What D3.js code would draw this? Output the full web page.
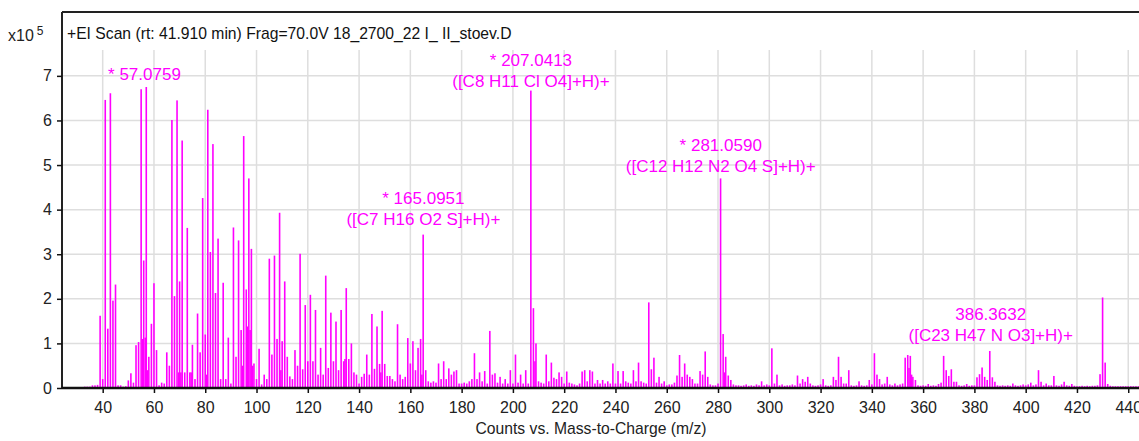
<!DOCTYPE html>
<html>
<head>
<meta charset="utf-8">
<script src="https://cdn.jsdelivr.net/npm/d3@7"></script>
<style>
html,body{margin:0;padding:0;background:#fff;}
svg{display:block;}
text{font-family:"Liberation Sans",Arial,sans-serif;}
</style>
</head>
<body>
<svg id="chart" width="1139" height="441"></svg>
<script>
// ---- data (counts in units of 10^5) ----
const titleText = "+EI Scan (rt: 41.910 min) Frag=70.0V 18_2700_22 I_ II_stoev.D";
const xLabel = "Counts vs. Mass-to-Charge (m/z)";
const xTicks = [40,60,80,100,120,140,160,180,200,220,240,260,280,300,320,340,360,380,400,420,440];
const yTicks = [0,1,2,3,4,5,6,7];

const mz = [
 33,34,35,36,37,38,39,40,41,42,43,44,45,46,47,48,49,50,51,52,
 53,54,55,56,57,58,59,60,61,62,63,64,65,66,67,68,69,70,71,72,
 73,74,75,76,77,78,79,80,81,82,83,84,85,86,87,88,89,90,91,92,
 93,94,95,96,97,98,99,100,101,102,103,104,105,106,107,108,109,110,111,112,
 113,114,115,116,117,118,119,120,121,122,123,124,125,126,127,128,129,130,131,132,
 133,134,135,136,137,138,139,140,141,142,143,144,145,146,147,148,149,150,151,152,
 153,154,155,156,157,158,159,160,161,162,163,164,165,166,167,168,169,170,171,172,
 173,174,175,176,177,178,179,180,181,182,183,184,185,186,187,188,189,190,191,192,
 193,194,195,196,197,198,199,200,201,202,203,204,205,206,207,208,209,210,211,212,
 213,214,215,216,217,218,219,220,221,222,223,224,225,226,227,228,229,230,231,232,
 233,234,235,236,237,238,239,240,241,242,243,244,245,246,247,248,249,250,251,252,
 253,254,255,256,257,258,259,260,261,262,263,264,265,266,267,268,269,270,271,272,
 273,274,275,276,277,278,279,280,281,282,283,284,285,286,287,288,289,290,291,292,
 293,294,295,296,297,298,299,300,301,302,303,304,305,306,307,308,309,310,311,312,
 313,314,315,316,317,318,319,320,321,322,323,324,325,326,327,328,329,330,331,332,
 333,334,335,336,337,338,339,340,341,342,343,344,345,346,347,348,349,350,351,352,
 353,354,355,356,357,358,359,360,361,362,363,364,365,366,367,368,369,370,371,372,
 373,374,375,376,377,378,379,380,381,382,383,384,385,386,387,388,389,390,391,392,
 393,394,395,396,397,398,399,400,401,402,403,404,405,406,407,408,409,410,411,412,
 413,414,415,416,417,418,419,420,421,422,423,424,425,426,427,428,429,430,431,432,
 433,434,435,436,437,438,439,440,441,442,443,444
];
const counts = [
 0.03,0.03,0.03,0.06,0.06,0.07,1.62,0.20,6.46,1.33,6.61,1.96,2.32,0.06,0.06,0.03,0.04,0.17,0.33,0.12,
 0.96,1.03,6.70,2.86,6.75,0.70,1.44,2.35,0.85,0.06,0.12,0.10,0.80,0.50,6.01,2.06,6.45,2.39,5.55,0.35,
 3.59,0.35,0.97,0.20,1.67,0.80,4.26,1.20,6.24,3.05,5.47,2.13,3.35,0.20,2.36,0.20,1.13,0.10,3.60,0.70,
 3.31,1.30,5.65,2.21,4.70,3.12,0.55,0.20,0.88,0.08,0.30,0.20,2.90,0.75,2.97,1.10,3.93,1.05,2.39,0.70,
 0.26,0.20,0.85,0.50,3.01,0.42,1.86,0.60,2.09,0.60,1.75,0.30,0.90,0.30,2.52,0.45,1.69,0.60,1.49,0.40,
 1.75,0.60,2.24,0.65,1.00,0.35,0.30,0.10,0.25,0.32,0.75,0.30,1.66,0.43,1.38,0.54,1.73,0.54,0.27,0.27,
 0.20,0.15,1.43,0.30,0.20,0.25,1.12,0.55,1.05,0.40,0.90,1.10,3.44,0.40,0.15,0.12,0.15,0.12,0.55,0.20,
 0.60,0.20,0.44,0.30,0.37,0.40,0.10,0.10,0.12,0.10,0.15,0.20,0.78,0.20,0.35,0.15,0.38,0.10,1.28,0.30,
 0.33,0.12,0.25,0.10,0.20,0.10,0.40,0.10,0.75,0.12,0.30,0.10,0.40,0.10,6.67,1.79,1.00,0.15,0.12,0.10,
 0.75,0.15,0.57,0.23,0.20,0.35,0.25,0.10,0.37,0.12,0.10,0.08,0.06,0.10,0.37,0.40,0.15,0.40,0.37,0.10,
 0.18,0.10,0.18,0.10,0.15,0.10,0.55,0.10,0.38,0.10,0.38,0.15,0.12,0.10,0.40,0.15,0.57,0.15,0.12,0.10,
 1.92,0.42,0.68,0.12,0.25,0.10,0.15,0.06,0.08,0.08,0.12,0.28,0.74,0.25,0.55,0.30,0.25,0.20,0.10,0.10,
 0.38,0.30,0.82,0.25,0.08,0.06,0.06,0.10,4.70,1.21,0.70,0.28,0.18,0.08,0.06,0.06,0.05,0.06,0.08,0.05,
 0.06,0.05,0.08,0.06,0.15,0.06,0.08,0.06,0.89,0.10,0.30,0.06,0.08,0.05,0.06,0.06,0.08,0.06,0.28,0.10,
 0.20,0.14,0.25,0.10,0.06,0.05,0.06,0.08,0.20,0.06,0.05,0.06,0.25,0.18,0.70,0.25,0.10,0.10,0.40,0.06,
 0.05,0.06,0.15,0.06,0.05,0.06,0.18,0.08,0.78,0.30,0.20,0.08,0.10,0.25,0.08,0.06,0.10,0.06,0.08,0.10,
 0.68,0.74,0.72,0.25,0.18,0.06,0.05,0.06,0.05,0.09,0.05,0.06,0.05,0.09,0.12,0.72,0.40,0.27,0.42,0.14,
 0.14,0.06,0.05,0.06,0.09,0.05,0.06,0.06,0.24,0.31,0.46,0.25,0.18,0.83,0.24,0.14,0.06,0.05,0.06,0.05,
 0.06,0.05,0.10,0.06,0.05,0.06,0.08,0.06,0.08,0.12,0.06,0.08,0.40,0.14,0.06,0.10,0.06,0.06,0.27,0.06,
 0.05,0.08,0.14,0.06,0.05,0.09,0.05,0.04,0.04,0.05,0.04,0.05,0.04,0.05,0.05,0.06,0.31,2.03,0.57,0.09,
 0.05,0.04,0.04,0.04,0.04,0.04,0.04,0.04,0.04,0.04,0.04,0.04
];
// additional non-integer peaks in dense regions
const extraMz = [55.6,56.6,57.5,69.6,70.5,74.5,80.5,94.5,96.5,97.5,98.5,109.5,134.5,148.5,164.5,208.6,282.5,354.5,355.5];
const extraCounts = [1.10,1.13,0.40,0.35,0.35,0.35,0.30,0.50,1.38,1.30,0.50,0.40,0.65,0.35,0.30,0.60,0.35,0.45,0.30];

// annotated peaks
const annoMz = [57.0759, 207.0413, 165.0951, 281.0590, 386.3632];
const annoLine1 = ["* 57.0759", "* 207.0413", "* 165.0951", "* 281.0590", "386.3632"];
const annoLine2 = ["", "([C8 H11 Cl O4]+H)+", "([C7 H16 O2 S]+H)+", "([C12 H12 N2 O4 S]+H)+", "([C23 H47 N O3]+H)+"];
const annoY = [6.91, 7.22, 4.13, 5.31, 1.52]; // label baseline height (x10^5)

// ---- layout ----
const svg = d3.select("#chart");
const pLeft = 62, pRight = 1139, pTop = 12, gridTop = 50, pBottom = 388;
const x = d3.scaleLinear().domain([24.13, 444.2]).range([pLeft, pRight]);
const y = d3.scaleLinear().domain([0, 7.58]).range([pBottom, gridTop]);
const magenta = "#ff00ff";
const FONT = "'Liberation Sans',Arial,sans-serif";

svg.append("defs").append("clipPath").attr("id","plotclip")
  .append("rect").attr("x", pLeft).attr("y", pTop).attr("width", pRight-pLeft).attr("height", pBottom-pTop);

// grid
const grid = svg.append("g");
grid.selectAll("line.vg").data(xTicks).enter().append("line")
  .attr("x1", d=>x(d)).attr("x2", d=>x(d)).attr("y1", gridTop).attr("y2", pBottom)
  .attr("stroke", "#dedede").attr("stroke-width", 1.5);
grid.selectAll("line.hg").data(yTicks.filter(d=>d>0)).enter().append("line")
  .attr("x1", pLeft).attr("x2", pRight).attr("y1", d=>y(d)).attr("y2", d=>y(d))
  .attr("stroke", "#dedede").attr("stroke-width", 1.5);

// bars
const peaks = mz.map((m,i)=>({m, v:counts[i]})).concat(extraMz.map((m,i)=>({m, v:extraCounts[i]})));
svg.append("g").attr("clip-path","url(#plotclip)")
  .selectAll("rect").data(peaks).enter().append("rect")
  .attr("x", d=>x(d.m)-0.8).attr("width", 1.6)
  .attr("y", d=>y(d.v)).attr("height", d=>pBottom - y(d.v))
  .attr("fill", magenta);

// frame (left & top)
svg.append("line").attr("x1", pLeft).attr("x2", pLeft).attr("y1", pTop).attr("y2", pBottom+1)
  .attr("stroke", "#222").attr("stroke-width", 2);
svg.append("line").attr("x1", pLeft).attr("x2", pRight).attr("y1", pTop).attr("y2", pTop)
  .attr("stroke", "#222").attr("stroke-width", 2);

// x axis
const xAxis = d3.axisBottom(x).tickValues(xTicks).tickSize(5).tickSizeOuter(0).tickFormat(d3.format("d"));
const gx = svg.append("g").attr("transform", `translate(0,${pBottom})`).call(xAxis);
gx.select(".domain").attr("stroke", "#111").attr("stroke-width", 2.5).attr("d", `M${pLeft},0H${pRight}`);
gx.selectAll(".tick line").attr("stroke", "#111").attr("stroke-width", 1.5);
gx.selectAll(".tick text").attr("font-size", 16).attr("fill", "#222").attr("dy", "1.05em")
  .attr("font-family", FONT);

// y axis
const yAxis = d3.axisLeft(y).tickValues(yTicks).tickSize(5).tickSizeOuter(0).tickFormat(d3.format("d"));
const gy = svg.append("g").attr("transform", `translate(${pLeft},0)`).call(yAxis);
gy.select(".domain").remove();
gy.selectAll(".tick line").attr("stroke", "#111").attr("stroke-width", 1.5);
gy.selectAll(".tick text").attr("font-size", 16).attr("fill", "#222").attr("x", -10)
  .attr("font-family", FONT);

// exponent label
const ex = svg.append("text").attr("x", 8).attr("y", 41).attr("font-size", 16).attr("fill", "#222");
ex.append("tspan").text("x10");
ex.append("tspan").attr("dx", 3).attr("dy", -6).attr("font-size", 12).text("5");

// title
svg.append("text").attr("x", 67).attr("y", 39).attr("font-size", 15.7).attr("fill", "#111").text(titleText);

// x label
svg.append("text").attr("x", 591).attr("y", 434).attr("text-anchor", "middle")
  .attr("font-size", 15.7).attr("fill", "#222").text(xLabel);

// annotations
const ann = svg.append("g").attr("fill", magenta).attr("font-size", 17);
annoMz.forEach((m,i)=>{
  const cx = x(m) - (annoLine2[i] === "" ? 2 : 0);
  const yy = y(annoY[i]);
  ann.append("text").attr("x", cx).attr("y", yy).attr("text-anchor","middle").text(annoLine1[i]);
  if (annoLine2[i] !== "") {
    ann.append("text").attr("x", cx).attr("y", yy + 21).attr("text-anchor","middle").text(annoLine2[i]);
  }
});
</script>
</body>
</html>
